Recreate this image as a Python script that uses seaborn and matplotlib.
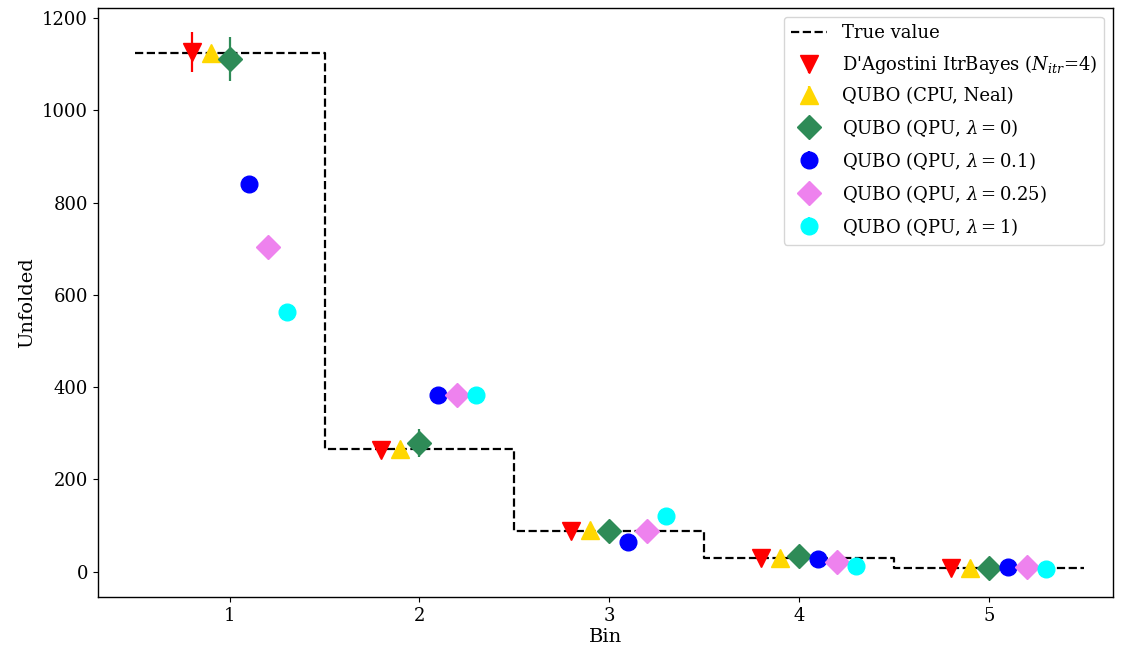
import numpy as np
import pandas as pd
import seaborn as sns
import matplotlib
matplotlib.use('Agg')
import matplotlib.pyplot as plt

# Data
bins = [1, 2, 3, 4, 5]
true_value = [1125, 265, 87, 30, 7]

labels = [r"D'Agostini ItrBayes ($N_{itr}$=4)",
          'QUBO (CPU, Neal)',
          r'QUBO (QPU, $\lambda = 0$)',
          r'QUBO (QPU, $\lambda = 0.1$)',
          r'QUBO (QPU, $\lambda = 0.25$)',
          r'QUBO (QPU, $\lambda = 1$)']
values = [
    [1126, 263, 87, 30, 7],
    [1125, 265, 89, 30, 7],
    [1111, 278, 87, 33, 7],
    [840, 382, 65, 28, 9],
    [703, 382, 87, 20, 9],
    [562, 382, 121, 13, 5],
]
errors = [
    [43, 16, 9, 5, 3],
    [0, 0, 0, 0, 0],
    [48, 30, 9, 5, 3],
    [0, 0, 0, 0, 0],
    [0, 0, 0, 0, 0],
    [0, 0, 0, 0, 0],
]
offsets = [-0.2, -0.1, 0.0, 0.1, 0.2, 0.3]
colors = ['red', 'gold', 'seagreen', 'blue', 'violet', 'cyan']
markers = ['v', '^', 'D', 'o', 'D', 'o']
sizes = [13, 13, 12, 12, 12, 12]

sns.set_style('ticks', {'axes.edgecolor': 'black', 'text.color': 'black',
                        'xtick.color': 'black', 'ytick.color': 'black',
                        'axes.labelcolor': 'black'})
plt.rcParams['font.family'] = ['DejaVu Serif']
plt.rcParams['mathtext.fontset'] = 'dejavuserif'
plt.rcParams['font.size'] = 13

fig, ax = plt.subplots(figsize=(11.22, 6.55), dpi=100)

# true value as a step histogram over bin edges
edges = np.arange(len(bins) + 1) + 0.5
df_true = pd.DataFrame({'x': edges, 'y': true_value + [true_value[-1]]})
sns.lineplot(data=df_true, x='x', y='y', ax=ax, drawstyle='steps-post',
             color='black', linestyle='--', linewidth=1.6, label='True value')

for lab, val, err, off, c, m, s in zip(labels, values, errors, offsets,
                                       colors, markers, sizes):
    x = np.array(bins) + off
    ax.errorbar(x, val, yerr=err, fmt=m, color=c, markersize=s,
                elinewidth=1.6, capsize=0, linestyle='none', label=lab)

ax.set_xlim(0.305, 5.653)
ax.set_ylim(-56, 1222)
ax.set_xticks(bins)
ax.set_xlabel('Bin', fontsize=14, labelpad=2)
ax.set_ylabel('Unfolded', fontsize=14)
ax.tick_params(labelsize=13)
for sp in ax.spines.values():
    sp.set_linewidth(1.0)
ax.legend(loc='upper right', fontsize=13, frameon=True, handlelength=2.0,
          labelspacing=0.62, borderaxespad=0.5)

plt.subplots_adjust(left=0.087, right=0.992, top=0.988, bottom=0.088)
plt.savefig('out.png', dpi=100)
